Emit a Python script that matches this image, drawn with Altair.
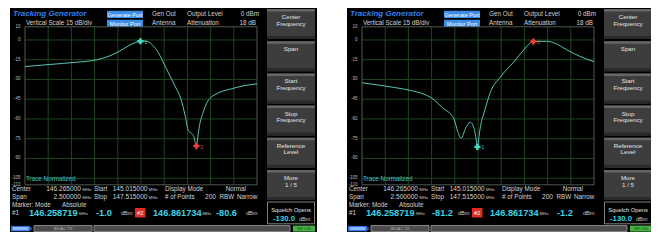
import altair as alt
import pandas as pd

FONT = "Liberation Sans"

# ---------------- data ----------------
F_START, F_STOP = 145.015, 147.515
DB_MIN, DB_MAX = -110, 10
Y_LABELS = [10, 0, -15, -30, -45, -60, -75, -90, -105, -110]
GRID_DB = [0, -15, -30, -45, -60, -75, -90, -105]
GRID_F = [145.265, 145.515, 145.765, 146.015, 146.265, 146.515, 146.765, 147.015, 147.265]

LEFT_F = [145.015, 145.284, 145.554, 145.791, 145.931, 146.039, 146.147, 146.211, 146.259,
          146.297, 146.340, 146.383, 146.437, 146.502, 146.578, 146.642, 146.696, 146.739,
          146.777, 146.810, 146.835, 146.862, 146.880, 146.901, 146.935, 146.973, 147.020,
          147.062, 147.140, 147.224, 147.385, 147.515]
LEFT_DB = [-20.2, -18.6, -17.0, -15.0, -12.0, -8.3, -3.8, -1.8, -1.0,
           -0.9, -1.3, -3.5, -8.0, -16.5, -27.5, -36.5, -45.0, -57.0,
           -69.0, -71.0, -73.5, -80.6, -72.0, -63.0, -55.0, -48.0, -43.5,
           -41.5, -39.0, -37.4, -34.6, -33.3]

RIGHT_F = [145.015, 145.200, 145.373, 145.550, 145.656, 145.763, 145.887, 145.976, 146.004,
           146.047, 146.082, 146.132, 146.182, 146.217, 146.240, 146.259, 146.282, 146.302,
           146.323, 146.401, 146.508, 146.650, 146.774, 146.824, 146.862, 147.004, 147.111,
           147.217, 147.359, 147.515]
RIGHT_DB = [-32.5, -34.3, -36.2, -38.5, -40.5, -44.0, -51.7, -56.8, -59.6,
            -69.5, -74.6, -67.0, -62.5, -66.0, -73.0, -81.2, -70.0, -62.0,
            -57.0, -39.2, -28.0, -16.7, -6.2, -2.5, -1.2, -1.0, -3.0,
            -7.3, -12.3, -16.5]

MARKER_F = [146.258719, 146.861734]
MARKER_F_TXT = ["146.258719", "146.861734"]
LEFT_MARKER_DB = [-1.0, -80.6]
RIGHT_MARKER_DB = [-81.2, -1.2]

BUTTONS = [("Center", "Frequency"), ("Span", ""), ("Start", "Frequency"),
           ("Stop", "Frequency"), ("Reference", "Level"), ("More", "1 / 5")]
ROW1 = ["Center", "146.265000", "Start", "145.015000", "Display Mode", "Normal"]
ROW2 = ["Span", "2.500000", "Stop", "147.515000", "# of Points", "200", "RBW", "Narrow"]
HEADER = ["Generate Port", "Gen Out", "Output Level", "0 dBm",
          "Monitor Port", "Antenna", "Attenuation", "18 dB"]
SQUELCH = "-130.0"

TRACE_COLOR = "#55c6b6"
M1_COLOR = "#45dcc4"
M2_COLOR = "#e8423a"
CYAN = "#3ad4e6"

STYLES = {
    "title": dict(fontSize=8, fontWeight="bold", fontStyle="italic", align="left", color="#2f80ea"),
    "lbl": dict(fontSize=6.3, align="left", color="#d2d2d2"),
    "lblr": dict(fontSize=6.3, align="right", color="#d2d2d2"),
    "num": dict(fontSize=6.6, align="right", color="#d2d2d2"),
    "btn": dict(fontSize=6.2, align="center", color="#e4e4e4"),
    "sqt": dict(fontSize=5.8, align="center", color="#e4e4e4"),
    "port": dict(fontSize=5.6, align="center", color="#ffffff"),
    "unit": dict(fontSize=4.3, align="left", color="#c4c4c4"),
    "dbm": dict(fontSize=5.6, align="left", color="#c8c8c8"),
    "big": dict(fontSize=9.2, fontWeight="bold", align="left", color=CYAN),
    "sq": dict(fontSize=7.8, fontWeight="bold", align="left", color=CYAN),
    "norm": dict(fontSize=6.3, align="left", color="#3cc4c4"),
    "stat": dict(fontSize=4.2, align="center", color="#b4b4b4"),
    "rfon": dict(fontSize=4.2, align="center", color="#1c4d1c"),
}


def build_screen(ox, s, trace_f, trace_db, m_db, db_x):
    def X(r):
        return ox - 8 + s * r

    def Y(r):
        return s * r

    xs = alt.Scale(domain=[F_START, F_STOP], range=[X(15), X(247)])
    ys = alt.Scale(domain=[DB_MIN, DB_MAX], range=[Y(176.8), Y(18.8)])
    noax = dict(axis=None)

    rects, texts = [], []

    def rect(x1, y1, x2, y2, fill, stroke="transparent"):
        rects.append(dict(x=X(x1), x2=X(x2), y=Y(y1), y2=Y(y2), fill=fill, stroke=stroke))

    def text(t, rx, ry, st):
        texts.append(dict(x=X(rx), y=Y(ry), text=t, style=st))

    sb = 223.4 / s - 5.8  # status bar top, kept inside the visible page
    # screen background
    rect(0, 0, 307, 228, "#000000")
    # side buttons
    for i, (l1, l2) in enumerate(BUTTONS):
        top = 1 + 32.2 * i
        rect(257, top, 305, top + 30, "#3d3d3d")
        rect(257, top, 305, top + 2.5, "#666666")
        rect(257, top + 27, 305, top + 30, "#2a2a2a")
        text(l1, 281, top + 8, "btn")
        if l2:
            text(l2, 281, top + 14.5, "btn")
    # squelch box
    rect(257.5, 194, 304.5, sb - 1.8, "#000000", "#808080")
    text("Squelch Opens", 281, 201.8, "sqt")
    text(SQUELCH, 263, 210.8, "sq")
    text("dBm", 289, 211, "dbm")
    # header
    text("Tracking Generator", 3, 6, "title")
    text("Vertical Scale 15 dB/div", 16, 15, "lbl")
    rect(97, 2.8, 133, 10, "#3a8ce8")
    rect(97, 11.8, 133, 19, "#3a8ce8")
    text(HEADER[0], 115, 6.5, "port")
    text(HEADER[4], 115, 15.5, "port")
    text(HEADER[1], 142, 6, "lbl")
    text(HEADER[5], 142, 15, "lbl")
    text(HEADER[2], 177, 6, "lbl")
    text(HEADER[6], 177, 15, "lbl")
    text(HEADER[3], 249, 6, "lblr")
    text(HEADER[7], 246, 15, "lblr")
    # readouts
    text("Trace Normalized", 16, 171, "norm")
    y1, y2, y3, y4 = 181.3, 189.3, 197, 204.7
    text(ROW1[0], 2, y1, "lbl")
    text(ROW1[1], 71, y1, "num")
    text("MHz", 72.3, y1 + 0.4, "unit")
    text(ROW1[2], 84, y1, "lbl")
    text(ROW1[3], 137.5, y1, "num")
    text("MHz", 138.8, y1 + 0.4, "unit")
    text(ROW1[4], 155, y1, "lbl")
    text(ROW1[5], 236, y1, "lblr")
    text(ROW2[0], 2, y2, "lbl")
    text(ROW2[1], 71, y2, "num")
    text("MHz", 72.3, y2 + 0.4, "unit")
    text(ROW2[2], 84, y2, "lbl")
    text(ROW2[3], 137.5, y2, "num")
    text("MHz", 138.8, y2 + 0.4, "unit")
    text(ROW2[4], 155, y2, "lbl")
    text(ROW2[5], 206, y2, "num")
    text(ROW2[6], 209.5, y2, "lbl")
    text(ROW2[7], 227, y2, "lbl")
    text("Marker: Mode", 2, y3, "lbl")
    text("Absolute", 52, y3, "lbl")
    text("#1", 2, y4, "lbl")
    text(MARKER_F_TXT[0], 19, y4, "big")
    text("MHz", 69, y4 + 0.8, "unit")
    text(f"{m_db[0]:.1f}", db_x[0], y4, "big")
    text("dBm", 111, y4 + 0.5, "dbm")
    rect(125, 200, 135.5, 209.5, "#e02a24")
    text("#2", 130.2, y4 + 0.2, "port")
    text(MARKER_F_TXT[1], 143, y4, "big")
    text("MHz", 192.5, y4 + 0.8, "unit")
    text(f"{m_db[1]:.1f}", db_x[1], y4, "big")
    text("dBm", 236, y4 + 0.5, "dbm")
    # status bar
    rect(1, sb + 0.3, 20, sb + 5.7, "#2f6fdc")
    rect(20, sb + 1.6, 21.6, sb + 4.4, "#2f6fdc")
    rect(2.6, sb + 1.4, 18.4, sb + 4.6, "#8fb8ff")
    rect(24, sb, 82, sb + 6, "#4b4b4b", "#8a8a8a")
    text("IEDAC TX", 53, sb + 3, "stat")
    rect(84, sb, 280, sb + 6, "#4b4b4b", "#8a8a8a")
    rect(283, sb, 305, sb + 6, "#44b044")
    text("RF ON", 294, sb + 3, "rfon")

    layers = []
    layers.append(
        alt.Chart(pd.DataFrame(rects)).mark_rect(strokeWidth=1).encode(
            x=alt.X("x:Q", scale=None, **noax), x2="x2:Q",
            y=alt.Y("y:Q", scale=None, **noax), y2="y2:Q",
            fill=alt.Fill("fill:N", scale=None, legend=None),
            stroke=alt.Stroke("stroke:N", scale=None, legend=None),
        )
    )
    # grid
    layers.append(
        alt.Chart(pd.DataFrame({"f": GRID_F})).mark_rule(color="#1e461e", strokeWidth=1).encode(
            x=alt.X("f:Q", scale=xs, **noax), y=alt.value(Y(18.8)), y2=alt.value(Y(176.8))
        )
    )
    layers.append(
        alt.Chart(pd.DataFrame({"db": GRID_DB})).mark_rule(color="#1e461e", strokeWidth=1).encode(
            y=alt.Y("db:Q", scale=ys, **noax), x=alt.value(X(15)), x2=alt.value(X(247))
        )
    )
    layers.append(
        alt.Chart(pd.DataFrame({"f0": [F_START], "f1": [F_STOP], "d0": [DB_MIN], "d1": [DB_MAX]}))
        .mark_rect(filled=False, color="#4e5a4e", strokeWidth=1)
        .encode(x=alt.X("f0:Q", scale=xs, **noax), x2="f1:Q",
                y=alt.Y("d0:Q", scale=ys, **noax), y2="d1:Q")
    )
    # y labels
    layers.append(
        alt.Chart(pd.DataFrame({"db": Y_LABELS, "t": [str(v) for v in Y_LABELS]}))
        .mark_text(align="right", baseline="middle", font=FONT, fontSize=4.5 * s, color="#bdbdbd")
        .encode(x=alt.value(X(10.5)), y=alt.Y("db:Q", scale=ys, **noax), text="t:N")
    )
    # texts
    df_t = pd.DataFrame(texts)
    for st, props in STYLES.items():
        sub = df_t[df_t["style"] == st]
        if len(sub) == 0:
            continue
        p = dict(props)
        fs = p.pop("fontSize") * s
        layers.append(
            alt.Chart(sub).mark_text(baseline="middle", font=FONT, fontSize=fs, **p).encode(
                x=alt.X("x:Q", scale=None, **noax), y=alt.Y("y:Q", scale=None, **noax), text="text:N"
            )
        )
    # trace
    layers.append(
        alt.Chart(pd.DataFrame({"f": trace_f, "db": trace_db}))
        .mark_line(color=TRACE_COLOR, strokeWidth=1, interpolate="monotone")
        .encode(x=alt.X("f:Q", scale=xs, **noax), y=alt.Y("db:Q", scale=ys, **noax))
    )
    # markers
    mk = pd.DataFrame({"f": MARKER_F, "db": m_db, "c": [M1_COLOR, M2_COLOR], "n": ["1", "2"]})
    layers.append(
        alt.Chart(mk).mark_point(shape="cross", filled=True, size=38, opacity=1).encode(
            x=alt.X("f:Q", scale=xs, **noax), y=alt.Y("db:Q", scale=ys, **noax),
            color=alt.Color("c:N", scale=None, legend=None),
        )
    )
    layers.append(
        alt.Chart(mk).mark_text(align="left", baseline="middle", dx=4, dy=1.5, font=FONT, fontSize=4.5).encode(
            x=alt.X("f:Q", scale=xs, **noax), y=alt.Y("db:Q", scale=ys, **noax),
            color=alt.Color("c:N", scale=None, legend=None), text="n:N",
        )
    )
    return layers


layers = build_screen(10, 1.0, LEFT_F, LEFT_DB, LEFT_MARKER_DB, (86, 206)) + \
    build_screen(347, 1.0, RIGHT_F, RIGHT_DB, RIGHT_MARKER_DB, (85, 210))

chart = (
    alt.layer(*layers)
    .resolve_scale(x="independent", y="independent", color="independent",
                   fill="independent", stroke="independent")
    .properties(width=643, height=224, autosize=alt.AutoSizeParams(type="none"), padding=0,
                background="white")
    .configure_view(strokeWidth=0)
)

chart.save("out.html", embed_options={"renderer": "svg", "actions": False})
